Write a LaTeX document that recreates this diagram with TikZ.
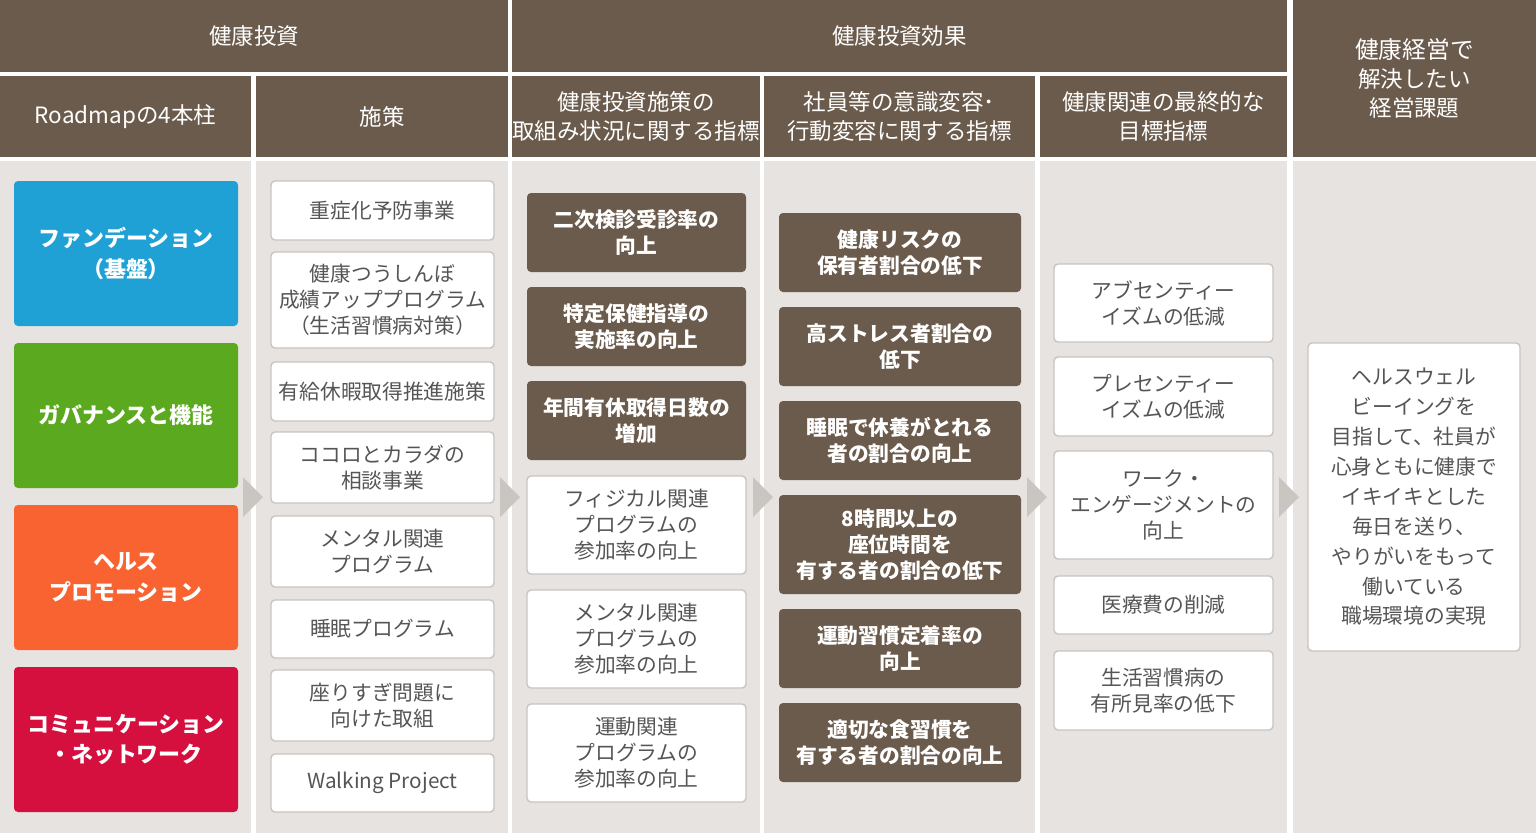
\documentclass[tikz,border=0pt]{standalone}
\usepackage{fontspec}
\setmainfont{Noto Sans CJK JP}
\begin{document}
\begin{tikzpicture}[x=0.02cm,y=-0.02cm,
  hdr/.style={fill=hbrown,text=white,inner sep=0pt,align=center,font=\fontsize{12.8}{16.5}\selectfont},
  pil/.style={rounded corners=0.08cm,text=white,inner sep=0pt,align=center,font=\bfseries\fontsize{12.5}{17.5}\selectfont},
  wbox/.style={rounded corners=0.08cm,fill=white,draw=bordergray,line width=0.8pt,text=txtgray,inner sep=0pt,align=center,font=\fontsize{11.8}{14.8}\selectfont},
  bbox/.style={rounded corners=0.08cm,fill=bbrown,text=white,inner sep=0pt,align=center,font=\bfseries\fontsize{11.8}{14.8}\selectfont},
  col/.style={fill=bggray,draw=none},
  arr/.style={fill=arrgray,draw=none}]
\definecolor{hbrown}{HTML}{6B5B4C}
\definecolor{bbrown}{HTML}{6B5B4C}
\definecolor{bggray}{HTML}{E6E3E0}
\definecolor{bordergray}{HTML}{C8C4C0}
\definecolor{txtgray}{HTML}{555555}
\definecolor{arrgray}{HTML}{C9C5C1}
\newcommand\B[7]{\node[#2, minimum width={(#5-#3)*0.02cm}, minimum height={(#6-#4)*0.02cm}] (#1) at ({(#3+#5)/2},{(#4+#6)/2}) {#7};}
\useasboundingbox (0,0) rectangle (1536,833);
\fill[white] (0,0) rectangle (1536,833);
% headers
\B{h1}{hdr}{0}{0}{508}{72}{健康投資}
\B{h2}{hdr}{512}{0}{1287}{72}{健康投資効果}
\B{h3}{hdr}{1293}{0}{1536}{157}{\fontsize{13.5}{18.5}\selectfont 健康経営で\\解決したい\\経営課題}
\B{s1}{hdr}{0}{76}{251}{157}{Roadmapの4本柱}
\B{s2}{hdr}{256}{76}{508}{157}{施策}
\B{s3}{hdr}{512}{76}{760}{157}{健康投資施策の\\取組み状況に関する指標}
\B{s4}{hdr}{764}{76}{1035}{157}{社員等の意識変容･\\行動変容に関する指標}
\B{s5}{hdr}{1040}{76}{1287}{157}{健康関連の最終的な\\目標指標}
% column backgrounds
\fill[col] (0,161) rectangle (251,833);
\fill[col] (256,161) rectangle (508,833);
\fill[col] (512,161) rectangle (760,833);
\fill[col] (764,161) rectangle (1035,833);
\fill[col] (1040,161) rectangle (1287,833);
\fill[col] (1293,161) rectangle (1536,833);
% arrows
\fill[arr] (243,477) -- (263,497) -- (243,517) -- cycle;
\fill[arr] (500,477) -- (520,497) -- (500,517) -- cycle;
\fill[arr] (753,477) -- (773,497) -- (753,517) -- cycle;
\fill[arr] (1027,477) -- (1047,497) -- (1027,517) -- cycle;
\fill[arr] (1279,477) -- (1299,497) -- (1279,517) -- cycle;
% pillars
\B{p1}{pil,fill={rgb,255:red,31;green,161;blue,214}}{14}{181}{238}{326}{ファンデーション\\（基盤）}
\B{p2}{pil,fill={rgb,255:red,90;green,169;blue,30}}{14}{343}{238}{488}{ガバナンスと機能}
\B{p3}{pil,fill={rgb,255:red,249;green,99;blue,50}}{14}{505}{238}{650}{ヘルス\\プロモーション}
\B{p4}{pil,fill={rgb,255:red,214;green,16;blue,62}}{14}{667}{238}{812}{コミュニケーション\\・ネットワーク}
% measures
\B{m1}{wbox}{271}{181}{494}{240}{重症化予防事業}
\B{m2}{wbox}{271}{252}{494}{348}{健康つうしんぼ\\成績アッププログラム\\（生活習慣病対策）}
\B{m3}{wbox}{271}{362}{494}{421}{有給休暇取得推進施策}
\B{m4}{wbox}{271}{432}{494}{503}{ココロとカラダの\\相談事業}
\B{m5}{wbox}{271}{516}{494}{587}{メンタル関連\\プログラム}
\B{m6}{wbox}{271}{600}{494}{658}{睡眠プログラム}
\B{m7}{wbox}{271}{670}{494}{741}{座りすぎ問題に\\向けた取組}
\B{m8}{wbox}{271}{754}{494}{812}{Walking Project}
% col3
\B{a1}{bbox}{527}{193}{746}{272}{二次検診受診率の\\向上}
\B{a2}{bbox}{527}{287}{746}{366}{特定保健指導の\\実施率の向上}
\B{a3}{bbox}{527}{381}{746}{460}{年間有休取得日数の\\増加}
\B{a4}{wbox}{527}{476}{746}{574}{フィジカル関連\\プログラムの\\参加率の向上}
\B{a5}{wbox}{527}{590}{746}{688}{メンタル関連\\プログラムの\\参加率の向上}
\B{a6}{wbox}{527}{704}{746}{802}{運動関連\\プログラムの\\参加率の向上}
% col4
\B{b1}{bbox}{779}{213}{1021}{292}{健康リスクの\\保有者割合の低下}
\B{b2}{bbox}{779}{307}{1021}{386}{高ストレス者割合の\\低下}
\B{b3}{bbox}{779}{401}{1021}{480}{睡眠で休養がとれる\\者の割合の向上}
\B{b4}{bbox}{779}{495}{1021}{594}{8時間以上の\\座位時間を\\有する者の割合の低下}
\B{b5}{bbox}{779}{609}{1021}{688}{運動習慣定着率の\\向上}
\B{b6}{bbox}{779}{703}{1021}{782}{適切な食習慣を\\有する者の割合の向上}
% col5
\B{c1}{wbox}{1054}{264}{1273}{342}{アブセンティー\\イズムの低減}
\B{c2}{wbox}{1054}{357}{1273}{436}{プレセンティー\\イズムの低減}
\B{c3}{wbox}{1054}{451}{1273}{559}{ワーク・\\エンゲージメントの\\向上}
\B{c4}{wbox}{1054}{576}{1273}{634}{医療費の削減}
\B{c5}{wbox}{1054}{651}{1273}{730}{生活習慣病の\\有所見率の低下}
% col6
\B{d1}{wbox,font=\fontsize{11.8}{17}\selectfont}{1308}{343}{1520}{651}{ヘルスウェル\\ビーイングを\\目指して、社員が\\心身ともに健康で\\イキイキとした\\毎日を送り、\\やりがいをもって\\働いている\\職場環境の実現}
\end{tikzpicture}
\end{document}
